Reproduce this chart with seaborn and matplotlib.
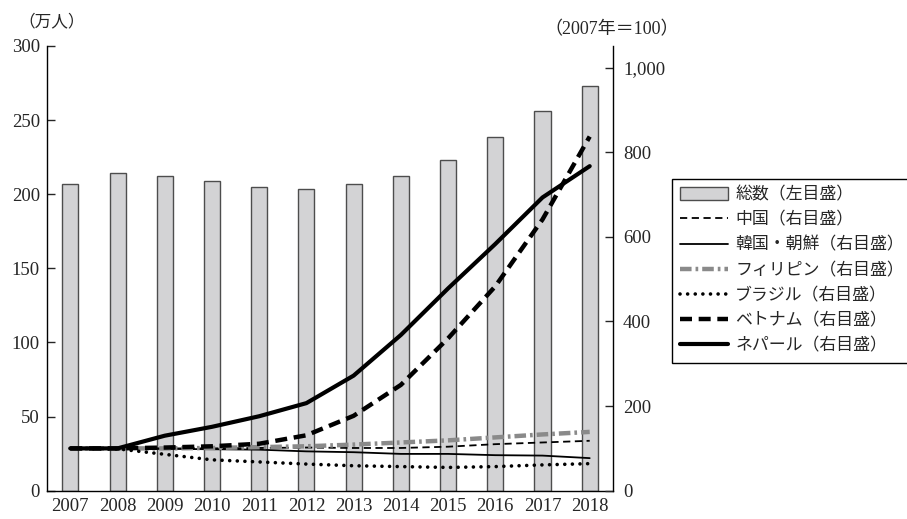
import matplotlib
matplotlib.use('Agg')
import matplotlib.pyplot as plt
from matplotlib.patches import Patch
from matplotlib.ticker import FuncFormatter
import pandas as pd
import seaborn as sns

# 在留外国人数（万人）と国籍別の指数（2007年=100）
years = [2007, 2008, 2009, 2010, 2011, 2012, 2013, 2014, 2015, 2016, 2017, 2018]
total = [207, 214.5, 212.5, 208.7, 204.7, 203.4, 206.6, 212.2, 223.2, 238.3, 256.2, 273.1]
china = [100, 100, 100, 100, 101, 102, 101, 101, 104, 110, 114, 118]
korea = [100, 99, 99, 98, 97, 93, 91, 87, 87, 84, 83, 77]
philippines = [100, 100, 100, 101, 103, 105, 109, 114, 119, 126, 133, 139]
brazil = [100, 99, 86, 73, 68, 63, 59, 57, 55, 57, 61, 64]
vietnam = [100, 100, 102, 105, 111, 131, 177, 250, 360, 483, 641, 837]
nepal = [100, 100, 130, 151, 176, 207, 272, 368, 478, 583, 693, 767]

bar_label = '総数（左目盛）'
series = [
    ('中国（右目盛）', china, dict(color='black', lw=1.3, linestyle=(0, (4, 2.5)))),
    ('韓国・朝鮮（右目盛）', korea, dict(color='black', lw=1.3, linestyle='-')),
    ('フィリピン（右目盛）', philippines, dict(color='#8a8a8a', lw=3.2, linestyle=(0, (2.6, 0.9, 0.6, 0.9)))),
    ('ブラジル（右目盛）', brazil, dict(color='black', lw=2.6, linestyle=(0, (0.01, 2.1)), dash_capstyle='round')),
    ('ベトナム（右目盛）', vietnam, dict(color='black', lw=3.2, linestyle=(0, (2.7, 1.5)))),
    ('ネパール（右目盛）', nepal, dict(color='black', lw=3.0, linestyle='-')),
]

df_bar = pd.DataFrame({'year': years, 'total': total})

sns.set_style('white')
plt.rcParams['font.family'] = ['Liberation Serif', 'Noto Sans CJK JP', 'DejaVu Sans']
plt.rcParams['font.size'] = 13

fig = plt.figure(figsize=(9.07, 5.19), dpi=100)
ax = fig.add_axes([0.0515, 0.0545, 0.6247, 0.8569])

sns.barplot(data=df_bar, x='year', y='total', native_scale=True, width=0.34,
            color='#d3d3d5', edgecolor='#4d4d4d', linewidth=1.0, saturation=1,
            ax=ax)
ax.set_xlim(2006.5, 2018.5)
ax.set_ylim(0, 300)
ax.set_xticks(years)
ax.set_xticklabels([str(y) for y in years])
ax.set_yticks([0, 50, 100, 150, 200, 250, 300])
ax.set_xlabel('')
ax.set_ylabel('')
ax.tick_params(axis='x', length=0, pad=5, labelsize=13.5)
ax.tick_params(axis='y', direction='in', length=6, width=1, pad=5, labelsize=13.5)
ax.spines['top'].set_visible(False)
ax.spines['right'].set_visible(False)
for s in ['left', 'bottom']:
    ax.spines[s].set_color('black')
    ax.spines[s].set_linewidth(1.0)

ax2 = ax.twinx()
for name, vals, kw in series:
    d = pd.DataFrame({'year': years, 'v': vals})
    sns.lineplot(data=d, x='year', y='v', label=name, ax=ax2, **kw)
ax2.set_ylim(0, 1051)
ax2.set_yticks([0, 200, 400, 600, 800, 1000])
ax2.yaxis.set_major_formatter(FuncFormatter(lambda v, p: f'{int(v):,}'))
ax2.set_xlim(2006.5, 2018.5)
ax2.set_xlabel('')
ax2.set_ylabel('')
ax2.tick_params(axis='y', direction='in', length=6, width=1, pad=7, labelsize=13.5)
ax2.spines['top'].set_visible(False)
ax2.spines['left'].set_visible(False)
ax2.spines['bottom'].set_visible(False)
ax2.spines['right'].set_color('black')
ax2.spines['right'].set_linewidth(1.0)

handles, labels = ax2.get_legend_handles_labels()
ax2.get_legend().remove()
bar_handle = Patch(facecolor='#d3d3d5', edgecolor='#4d4d4d', linewidth=1.0)
leg = fig.legend([bar_handle] + handles, [bar_label] + labels,
                 loc='upper left', bbox_to_anchor=(672 / 907, 1 - 179 / 519),
                 frameon=True, fancybox=False, framealpha=1, edgecolor='black',
                 fontsize=12.2, handlelength=2.8, handleheight=0.8,
                 handletextpad=0.45, labelspacing=0.52, borderpad=0.48,
                 borderaxespad=0)
leg.get_frame().set_linewidth(1.0)

fig.text(18 / 907, 1 - 22 / 519, '（万人）', fontsize=12, ha='left', va='center')
fig.text(544 / 907, 1 - 30 / 519, '（2007年＝100）', fontsize=13, ha='left', va='center')

fig.savefig('out.png', dpi=100)
